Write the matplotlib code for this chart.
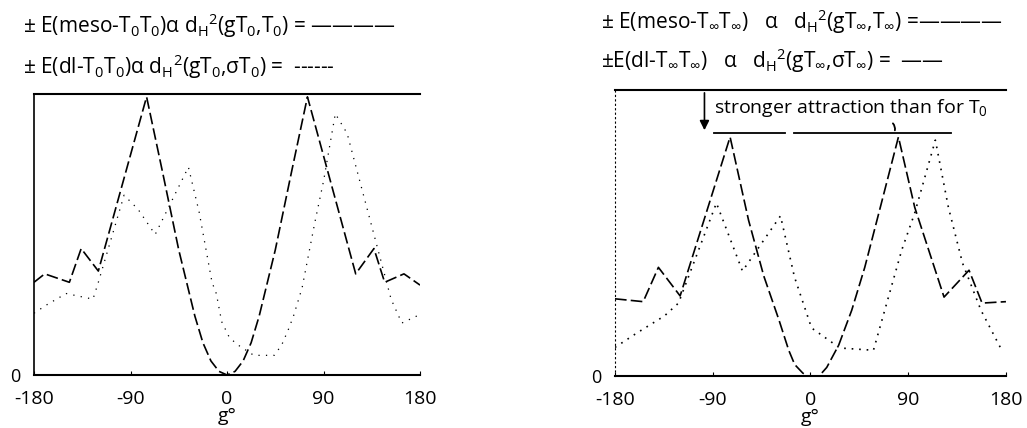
import matplotlib
matplotlib.use('Agg')
import matplotlib.pyplot as plt
import numpy as np

plt.rcParams['font.family'] = ['Open Sans', 'DejaVu Sans']
plt.rcParams['mathtext.fontset'] = 'custom'
plt.rcParams['mathtext.rm'] = 'Open Sans'
plt.rcParams['mathtext.it'] = 'Open Sans:italic'
plt.rcParams['mathtext.bf'] = 'Open Sans:bold'

# left panel: T0 T0
g_meso_l = [-180, -170, -147, -136, -120, -75, -60, -45, -30, -22.5, -15, -7.5, 0,
            7.5, 15, 22.5, 30, 45, 60, 75, 120, 137, 147, 165, 180]
e_meso_l = [0.33, 0.36, 0.33, 0.45, 0.37, 0.99, 0.72, 0.445, 0.21, 0.115, 0.05, 0.013, 0.0,
            0.013, 0.05, 0.115, 0.21, 0.445, 0.72, 0.99, 0.36, 0.45, 0.33, 0.36, 0.32]
g_dl_l = [-180, -168, -150, -125, -120, -96, -83, -67, -36, -26, -14, -10, -5, 2, 9,
          25, 44, 51, 57, 62, 70, 82, 90, 101, 112, 153, 163, 177, 180]
e_dl_l = [0.22, 0.25, 0.29, 0.27, 0.33, 0.64, 0.59, 0.50, 0.74, 0.58, 0.33, 0.29, 0.19, 0.135, 0.11,
          0.07, 0.07, 0.107, 0.16, 0.21, 0.31, 0.545, 0.69, 0.93, 0.86, 0.27, 0.185, 0.21, 0.22]

# right panel: T_inf T_inf
g_meso_r = [-180, -154, -140, -120, -74, -57, -43, -29, -20, -14.5, -7, -2, 8,
            15, 26, 38, 50, 65, 81, 96, 123, 146, 158, 180]
e_meso_r = [0.27, 0.26, 0.38, 0.28, 0.836, 0.545, 0.35, 0.196, 0.09, 0.04, 0.01, 0.0, 0.0,
            0.03, 0.108, 0.23, 0.38, 0.60, 0.836, 0.59, 0.276, 0.37, 0.255, 0.26]
g_dl_r = [-180, -160, -134.5, -121.5, -86.6, -62.6, -27.6, -14.7, 1, 27, 58,
          84, 96, 115, 127, 140, 157, 177]
e_dl_r = [0.10, 0.15, 0.21, 0.255, 0.605, 0.367, 0.56, 0.346, 0.168, 0.098, 0.09,
          0.44, 0.57, 0.825, 0.59, 0.395, 0.23, 0.084]

xticks = [-180, -90, 0, 90, 180]
xtick_labels = ['-180', '-90', '0', '90', '180']

legend_l = [r'± E(meso-T$_0$T$_0$)α d$_\mathrm{H}$$^2$(gT$_0$,T$_0$) = ————',
            r'± E(dl-T$_0$T$_0$)α d$_\mathrm{H}$$^2$(gT$_0$,σT$_0$) =  ------']
legend_r = [r'± E(meso-T$_\infty$T$_\infty$)   α   d$_\mathrm{H}$$^2$(gT$_\infty$,T$_\infty$) =————',
            r'±E(dl-T$_\infty$T$_\infty$)   α   d$_\mathrm{H}$$^2$(gT$_\infty$,σT$_\infty$) =  ——']

fig = plt.figure(figsize=(10.27, 4.28), dpi=100)
ax1 = fig.add_axes([0.0331, 0.1238, 0.3759, 0.6565])
ax2 = fig.add_axes([0.5988, 0.1215, 0.3807, 0.668])

meso_style = (0, (7, 2.5))
dl_style = (0, (1, 3.5))

ax1.plot(g_meso_l, e_meso_l, color='k', lw=1.2, linestyle=meso_style)
ax1.plot(g_dl_l, e_dl_l, color='k', lw=0.9, linestyle=(0, (1, 5)))
ax2.plot(g_meso_r, e_meso_r, color='k', lw=1.2, linestyle=meso_style)
ax2.plot(g_dl_r, e_dl_r, color='k', lw=1.2, linestyle=dl_style)

for ax in (ax1, ax2):
    ax.set_xlim(-180, 180)
    ax.set_ylim(0, 1)
    ax.spines['right'].set_visible(False)
    ax.spines['top'].set_linewidth(1.5)
    ax.spines['bottom'].set_linewidth(1.5)
    ax.set_xticks(xticks)
    ax.set_xticklabels(xtick_labels, fontsize=14)
    ax.set_yticks([0])
    ax.set_yticklabels(['0'], fontsize=13)
    ax.tick_params(axis='x', direction='in', length=3, pad=11)
    ax.tick_params(axis='y', length=0, pad=10)
    ax.set_xlabel('g°', fontsize=14, labelpad=-1)

ax1.spines['left'].set_linewidth(1.2)
ax2.spines['left'].set_linestyle((0, (1, 3)))
ax2.spines['left'].set_linewidth(0.8)

for i, s in enumerate(legend_l):
    fig.text(0.022, 0.94 - i * 0.095, s, fontsize=15, va='center', ha='left')
for i, s in enumerate(legend_r):
    fig.text(0.585, 0.95 - i * 0.092, s, fontsize=15, va='center', ha='left')

# annotation in right panel
ax2.annotate('', xy=(-97.6, 0.85), xytext=(-97.6, 1.0),
             arrowprops=dict(arrowstyle='-|>', color='k', lw=1.2, mutation_scale=14))
ax2.text(-89, 0.937, r'stronger attraction than for T$_0$', fontsize=14, va='center', ha='left')
ax2.plot([-88.4, -23.9], [0.85, 0.85], color='k', lw=1.3)
ax2.plot([-14.7, 129.8], [0.85, 0.85], color='k', lw=1.3)
ax2.annotate('', xy=(77, 0.85), xytext=(74, 0.89),
             arrowprops=dict(arrowstyle='-', color='k', lw=1.3,
                             connectionstyle='arc3,rad=-0.4'))

fig.savefig('out.png', dpi=100)
